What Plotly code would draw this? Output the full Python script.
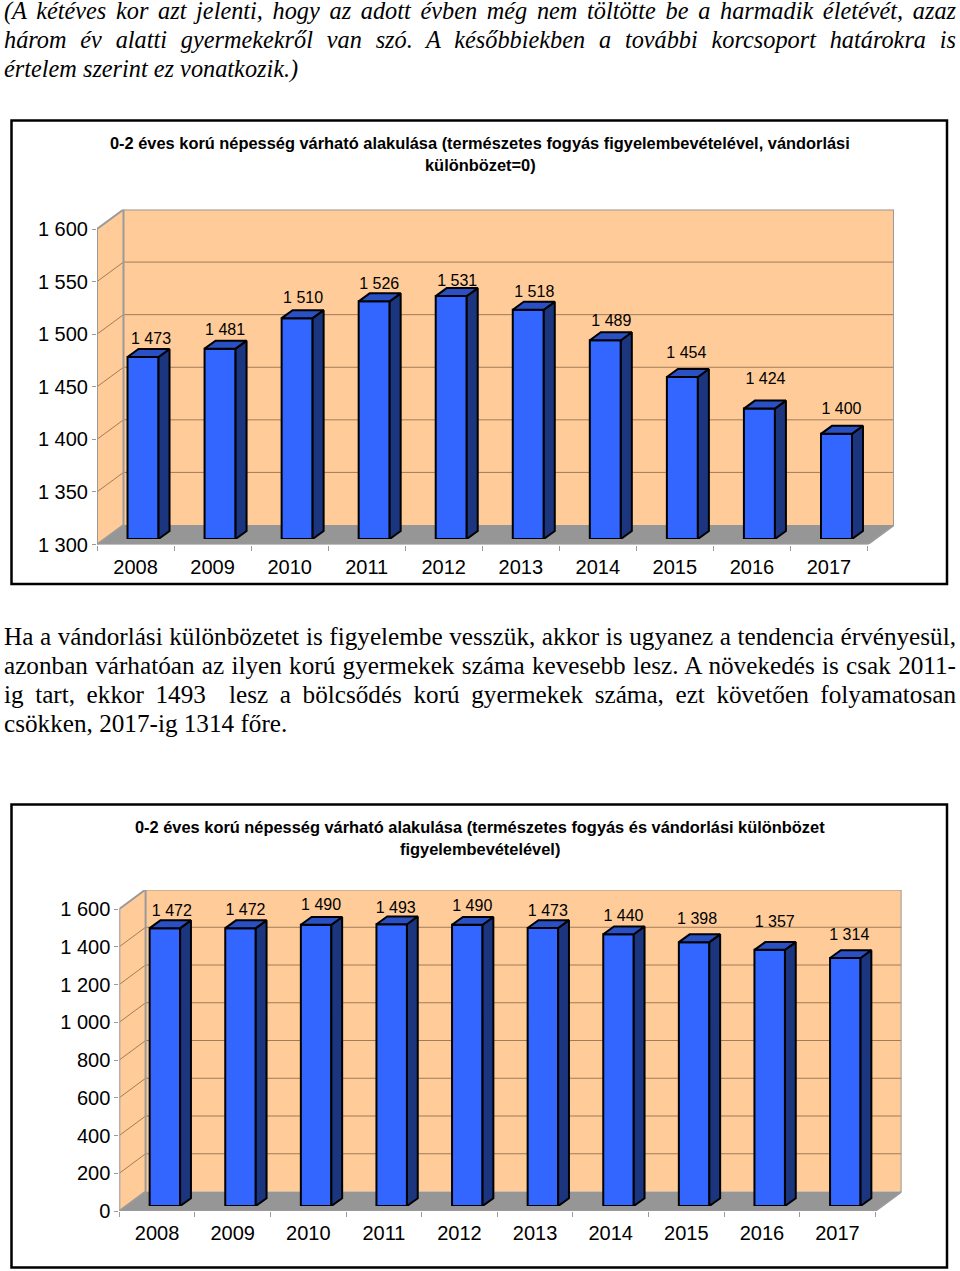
import json
import plotly.graph_objects as go

# ---- data ----
years = [2008, 2009, 2010, 2011, 2012, 2013, 2014, 2015, 2016, 2017]
natural_values = [1473, 1481, 1510, 1526, 1531, 1518, 1489, 1454, 1424, 1400]
migration_values = [1472, 1472, 1490, 1493, 1490, 1473, 1440, 1398, 1357, 1314]
natural_ticks = [1300, 1350, 1400, 1450, 1500, 1550, 1600]
natural_ticklabels = ["1 300", "1 350", "1 400", "1 450", "1 500", "1 550", "1 600"]
migration_ticks = [0, 200, 400, 600, 800, 1000, 1200, 1400, 1600]
migration_ticklabels = ["0", "200", "400", "600", "800", "1 000", "1 200", "1 400", "1 600"]
natural_title = ["0-2 éves korú népesség várható alakulása (természetes fogyás figyelembevételével, vándorlási",
                 "különbözet=0)"]
migration_title = ["0-2 éves korú népesség várható alakulása (természetes fogyás és vándorlási különbözet",
                   "figyelembevételével)"]
intro_lines = ["(A kétéves kor azt jelenti, hogy az adott évben még nem töltötte be a harmadik életévét, azaz",
               "három év alatti gyermekekről van szó. A későbbiekben a további korcsoport határokra is",
               "értelem szerint ez vonatkozik.)"]
body_lines = ["Ha a vándorlási különbözetet is figyelembe vesszük, akkor is ugyanez a tendencia érvényesül,",
              "azonban várhatóan az ilyen korú gyermekek száma kevesebb lesz. A növekedés is csak 2011-",
              "ig tart, ekkor 1493  lesz a bölcsődés korú gyermekek száma, ezt követően folyamatosan",
              "csökken, 2017-ig 1314 főre."]

# ---- style ----
W, H = 960, 1271
WALL, FLOOR, EDGE, GRID = "#FFCB98", "#969696", "#9A9A9A", "#A07C58"
FRONT, SIDE, TOP = "#3366FF", "#1B357F", "#2A50C4"
SANS = "Liberation Sans"
SERIF = "Liberation Serif"


def px(x):
    return x / W


def py(y):
    return 1 - y / H


fig = go.Figure()
layout_axes = {}
shapes = []
annotations = []


def poly(xa, ya, xs, ys, fill=None, color=None, width=1, clip=True, mode="lines"):
    fig.add_trace(go.Scatter(
        x=xs, y=ys, xaxis=xa, yaxis=ya, mode=mode, showlegend=False, hoverinfo="skip",
        fill="toself" if fill else None, fillcolor=fill,
        line=dict(color=color or "rgba(0,0,0,0)", width=width), cliponaxis=clip))


def chart(idx, values, ticks, ticklabels, label_dx, label_dy,
          left, right, cat_w, y_low_px, y_top_px, v_top_px,
          wall_dx, wall_dy, bar_dx, bar_dy, depth_x, depth_y, bar_px):
    v0, v1 = ticks[0], ticks[-1]
    sx = cat_w
    sy = (y_low_px - v_top_px) / (v1 - v0)
    x0 = years[0] - 0.5
    x_range = [x0, x0 + (right + wall_dx - left) / sx]
    y_range = [v0, v0 + (y_low_px - y_top_px) / sy]
    n = 2 * idx - 1
    xa, ya, xb, yb = f"x{n}", f"y{n}", f"x{n+1}", f"y{n+1}"
    base_axis = dict(showgrid=False, zeroline=False, showline=False, automargin=False)
    layout_axes[f"xaxis{n}"] = dict(
        base_axis, anchor=ya, range=x_range,
        domain=[px(left), px(right + wall_dx)],
        tickmode="array", tickvals=years, ticktext=[str(y) for y in years],
        ticks="", ticklabelstandoff=8, tickfont=dict(family=SANS, size=20, color="black"),
        minor=dict(tickmode="array", tickvals=[y - 0.5 for y in years] + [years[-1] + 0.5],
                   ticks="outside", ticklen=5, tickcolor=EDGE, tickwidth=1))
    layout_axes[f"yaxis{n}"] = dict(
        base_axis, anchor=xa, range=y_range,
        domain=[py(y_low_px), py(y_top_px)],
        tickmode="array", tickvals=ticks, ticktext=ticklabels,
        ticks="outside", ticklen=4, tickcolor=EDGE, tickwidth=1,
        tickfont=dict(family=SANS, size=20, color="black"))
    layout_axes[f"xaxis{n+1}"] = dict(
        base_axis, anchor=yb, visible=False, range=x_range,
        domain=[px(left + bar_dx), px(right + wall_dx + bar_dx)])
    layout_axes[f"yaxis{n+1}"] = dict(
        base_axis, anchor=xb, visible=False, range=y_range,
        domain=[py(y_low_px - bar_dy), py(y_top_px - bar_dy)])

    xl, xr = x0, x0 + len(years)
    wx, wy = wall_dx / sx, wall_dy / sy
    # back wall, side wall, floor
    poly(xa, ya, [xl + wx, xr + wx, xr + wx, xl + wx, xl + wx],
         [v0 + wy, v0 + wy, v1 + wy, v1 + wy, v0 + wy], fill=WALL)
    poly(xa, ya, [xl, xl + wx, xl + wx, xl, xl], [v0, v0 + wy, v1 + wy, v1, v0], fill=WALL)
    poly(xa, ya, [xl, xr, xr + wx, xl + wx, xl], [v0, v0, v0 + wy, v0 + wy, v0], fill=FLOOR)
    # gridlines
    gx, gy = [], []
    for t in ticks[1:-1]:
        gx += [xl, xl + wx, xr + wx, None]
        gy += [t, t + wy, t + wy, None]
    poly(xa, ya, gx, gy, color=GRID, width=1)
    # wall edges
    ex = [xl, xl, xl + wx, xr + wx, xr + wx, xr, xl, None, xl, xl + wx, xl + wx]
    ey = [v0, v1, v1 + wy, v1 + wy, v0 + wy, v0, v0, None, v0, v0 + wy, v1 + wy]
    poly(xa, ya, ex, ey, color=EDGE, width=2, clip=False)

    # bars
    half = bar_px / sx / 2
    dx, dy = depth_x / sx, depth_y / sy
    fig.add_trace(go.Bar(
        x=years, y=values, xaxis=xb, yaxis=yb, width=bar_px / sx, showlegend=False,
        marker=dict(color=FRONT, line=dict(color="black", width=2)), hoverinfo="x+y"))
    for yr, v in zip(years, values):
        a, b = yr - half, yr + half
        poly(xb, yb, [b, b + dx, b + dx, b, b], [v0, v0 + dy, v + dy, v, v0],
             fill=SIDE, color="black", width=2, clip=False)
        poly(xb, yb, [a, b, b + dx, a + dx, a], [v, v, v + dy, v + dy, v],
             fill=TOP, color="black", width=2, clip=False)
        poly(xb, yb, [a, b], [v0, v0], color="black", width=2, clip=False)
    # data labels
    fig.add_trace(go.Scatter(
        x=[yr + d / sx for yr, d in zip(years, label_dx)],
        y=[v + d / sy for v, d in zip(values, label_dy)],
        xaxis=xb, yaxis=yb, mode="text", showlegend=False, hoverinfo="skip", cliponaxis=False,
        text=[f"{v:,}".replace(",", " ") for v in values], textposition="middle center",
        textfont=dict(family=SANS, size=16, color="black")))


chart(1, natural_values, natural_ticks, natural_ticklabels,
      [8, 5, 6, 5, 6, 6, 6, 4, 6, 5], [17.5, 18, 19, 16, 14, 17, 18, 23, 29, 24],
      left=97, right=867.5, cat_w=77.05, y_low_px=544.5, y_top_px=209.5, v_top_px=229,
      wall_dx=26.5, wall_dy=19.5, bar_dx=7.5, bar_dy=5.5, depth_x=11, depth_y=8, bar_px=31)
chart(2, migration_values, migration_ticks, migration_ticklabels,
      [7, 5, 5, 4, 5, 5, 5, 3, 5, 4], [16, 17, 19, 15, 18, 16, 17, 22, 27, 22],
      left=119.3, right=875.3, cat_w=75.6, y_low_px=1211, y_top_px=890, v_top_px=909,
      wall_dx=26.3, wall_dy=19.5, bar_dx=7.8, bar_dy=5, depth_x=10.8, depth_y=7.8, bar_px=30.5)

# chart frames
for top, bottom in ((120.5, 584), (804.5, 1267.5)):
    shapes.append(dict(type="rect", xref="paper", yref="paper", x0=px(11.5), x1=px(947),
                       y0=py(bottom), y1=py(top), line=dict(color="black", width=2.5)))


def note(text, x, y, size, family, anchor="left", italic=False, bold=False):
    shown = f"<b>{text}</b>" if bold else text
    annotations.append(dict(
        text=shown, xref="paper", yref="paper", x=px(x), y=py(y), showarrow=False,
        xanchor=anchor, yanchor="middle", align=anchor, borderpad=0, borderwidth=0,
        font=dict(family=family, size=size, color="black",
                  style="italic" if italic else "normal")))


for line, y in zip(intro_lines, (10.5, 39.5, 68.5)):
    note(line, 4, y, 24.3, SERIF, italic=True)
for line, y in zip(body_lines, (636.5, 665.5, 694.5, 723.5)):
    note(line, 4, y, 25.2, SERIF)
for line, y in zip(natural_title, (143, 165)):
    note(line, 480, y, 16.4, SANS, anchor="center", bold=True)
for line, y in zip(migration_title, (827, 849)):
    note(line, 480, y, 16.4, SANS, anchor="center", bold=True)

fig.update_layout(
    width=W, height=H, autosize=False, margin=dict(l=0, r=0, t=0, b=0, pad=0),
    paper_bgcolor="white", plot_bgcolor="rgba(0,0,0,0)", showlegend=False,
    barmode="overlay", shapes=shapes, annotations=annotations,
    **{k.replace("axis1", "axis"): v for k, v in layout_axes.items()})

justified = intro_lines[:2] + body_lines[:3]
post = """
document.body.style.margin = '0';
document.body.style.overflow = 'hidden';
var justified = %s;
document.querySelectorAll('.annotation-text').forEach(function (t) {
  if (justified.indexOf(t.textContent) < 0) return;
  var gaps = (t.textContent.match(/ /g) || []).length;
  t.style.wordSpacing = ((952 - t.getComputedTextLength()) / gaps) + 'px';
});
""" % json.dumps(justified, ensure_ascii=False)
fig.write_html("out.html", post_script=post, config={"displayModeBar": False})
